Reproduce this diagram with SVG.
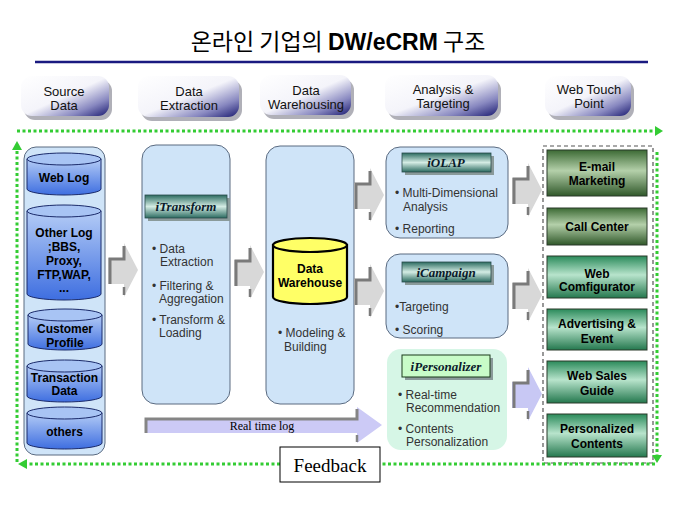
<svg xmlns="http://www.w3.org/2000/svg" width="680" height="510" viewBox="0 0 680 510">
<style>
.t{font-family:"Liberation Sans",Arial,sans-serif;}
.pill{font-family:"Liberation Sans",Arial,sans-serif;font-size:13px;fill:#111;text-anchor:middle;}
.cyl{font-family:"Liberation Sans",Arial,sans-serif;font-size:12px;font-weight:bold;fill:#000;text-anchor:middle;}
.bul{font-family:"Liberation Sans",Arial,sans-serif;font-size:12px;fill:#333;}
.ban{font-family:"Liberation Serif","Times New Roman",serif;font-size:13px;font-weight:bold;font-style:italic;fill:#0a1a2a;text-anchor:middle;}
.gb{font-family:"Liberation Sans",Arial,sans-serif;font-size:12px;font-weight:bold;fill:#000;text-anchor:middle;}
.panel{fill:#cfe4f8;stroke:#5a6a80;stroke-width:1;}
.cylb{fill:url(#gCyl);stroke:#1a2a6a;stroke-width:1;}
.cylt{fill:#a8c4f4;stroke:#1a2a6a;stroke-width:1;}
.dot{fill:none;stroke:#33cc33;stroke-width:3;stroke-dasharray:3 2.5;}
.pshadow{fill:#b0b0b8;}
.pillr{fill:url(#gPill);}
.banr{fill:url(#gBan);stroke:#2a4a4a;stroke-width:0.8;}
.bansh{fill:#8a9a9a;}
.gk{stroke:#2a3a2a;stroke-width:1;}
</style>
<defs>
<linearGradient id="gPill" x1="0" y1="0" x2="1" y2="1">
<stop offset="0" stop-color="#ffffff"/>
<stop offset="0.5" stop-color="#f4f4fa"/>
<stop offset="0.78" stop-color="#8888c0"/>
<stop offset="1" stop-color="#1a1a70"/>
</linearGradient>
<linearGradient id="gCyl" x1="0" y1="0" x2="0" y2="1">
<stop offset="0" stop-color="#b4ccf6"/>
<stop offset="1" stop-color="#3e6ee0"/>
</linearGradient>
<linearGradient id="gBan" x1="0" y1="0" x2="0" y2="1">
<stop offset="0" stop-color="#2b6b60"/>
<stop offset="0.5" stop-color="#d4ece4"/>
<stop offset="1" stop-color="#2b6b60"/>
</linearGradient>
<linearGradient id="gDG" x1="0" y1="0" x2="0" y2="1">
<stop offset="0" stop-color="#3c6a34"/>
<stop offset="0.45" stop-color="#b4d0aa"/>
<stop offset="1" stop-color="#30582a"/>
</linearGradient>
<linearGradient id="gTG" x1="0" y1="0" x2="0" y2="1">
<stop offset="0" stop-color="#2a8a5a"/>
<stop offset="0.45" stop-color="#b8e4cc"/>
<stop offset="1" stop-color="#24784e"/>
</linearGradient>
<g id="blk">
<polygon points="0,15 16,15 16,0 30,27 16,54 16,41 0,41" fill="#d8d8d8"/>
<polyline points="2,41 2,16 16,16 16,3" fill="none" stroke="#7a7a7a" stroke-width="3"/>
<line x1="16" y1="44" x2="16" y2="52" stroke="#7a7a7a" stroke-width="2.5"/>
</g>
<g id="blkL">
<polygon points="0,15 16,15 16,0 30,27 16,54 16,41 0,41" fill="#c8c8f4"/>
<polyline points="2,41 2,16 16,16 16,3" fill="none" stroke="#7a7a7a" stroke-width="3"/>
<line x1="16" y1="44" x2="16" y2="52" stroke="#7a7a7a" stroke-width="2.5"/>
</g>
</defs>
<rect width="680" height="510" fill="#ffffff"/>

<g id="title">
<text x="338" y="50" font-family="'Noto Sans CJK KR','Liberation Sans',sans-serif" font-size="23" text-anchor="middle" fill="#000">온라인 기업의 <tspan font-weight="bold" font-family="'Liberation Sans',Arial,sans-serif">DW/eCRM</tspan> 구조</text>
<line x1="35" y1="62" x2="648" y2="62" stroke="#1a1a80" stroke-width="2.5"/>
</g>

<g id="header-source">
<rect class="pshadow" x="24" y="80" width="88" height="40" rx="11"/>
<rect class="pillr" x="21" y="76" width="88" height="40" rx="11"/>
<text class="pill" x="64" y="96">Source</text><text class="pill" x="64" y="110">Data</text>
</g>
<g id="header-extraction">
<rect class="pshadow" x="141" y="80" width="101" height="41" rx="11"/>
<rect class="pillr" x="138" y="76" width="101" height="41" rx="11"/>
<text class="pill" x="189" y="96">Data</text><text class="pill" x="189" y="110">Extraction</text>
</g>
<g id="header-warehousing">
<rect class="pshadow" x="263" y="79" width="91" height="40" rx="11"/>
<rect class="pillr" x="260" y="75" width="91" height="40" rx="11"/>
<text class="pill" x="306" y="95">Data</text><text class="pill" x="306" y="109">Warehousing</text>
</g>
<g id="header-analysis">
<rect class="pshadow" x="388" y="79" width="113" height="41" rx="11"/>
<rect class="pillr" x="385" y="75" width="113" height="41" rx="11"/>
<text class="pill" x="443" y="94">Analysis &amp;</text><text class="pill" x="443" y="108">Targeting</text>
</g>
<g id="header-webtouch">
<rect class="pshadow" x="548" y="80" width="86" height="40" rx="11"/>
<rect class="pillr" x="545" y="76" width="86" height="40" rx="11"/>
<text class="pill" x="589" y="94">Web Touch</text><text class="pill" x="589" y="108">Point</text>
</g>

<g id="source-data">
<rect class="panel" x="24" y="147" width="81" height="308" rx="12"/>
<g id="cyl-weblog">
<path class="cylb" d="M27,159 V189 A37,6 0 0 0 101,189 V159 Z"/>
<ellipse class="cylt" cx="64" cy="159" rx="37" ry="6"/>
<text class="cyl" x="64" y="182">Web Log</text>
</g>
<g id="cyl-otherlog">
<path class="cylb" d="M27,211 V294 A37,6 0 0 0 101,294 V211 Z"/>
<ellipse class="cylt" cx="64" cy="211" rx="37" ry="6"/>
<text class="cyl" x="64" y="237">Other Log</text>
<text class="cyl" x="64" y="251">;BBS,</text>
<text class="cyl" x="64" y="265">Proxy,</text>
<text class="cyl" x="64" y="279">FTP,WAP,</text>
<text class="cyl" x="64" y="292">...</text>
</g>
<g id="cyl-customer">
<path class="cylb" d="M28,315 V344 A37,6 0 0 0 102,344 V315 Z"/>
<ellipse class="cylt" cx="65" cy="315" rx="37" ry="6"/>
<text class="cyl" x="65" y="333">Customer</text>
<text class="cyl" x="65" y="347">Profile</text>
</g>
<g id="cyl-transaction">
<path class="cylb" d="M27,366 V396 A37.5,6 0 0 0 102,396 V366 Z"/>
<ellipse class="cylt" cx="64.5" cy="366" rx="37.5" ry="6"/>
<text class="cyl" x="64.5" y="382">Transaction</text>
<text class="cyl" x="64.5" y="395">Data</text>
</g>
<g id="cyl-others">
<path class="cylb" d="M27,413 V443 A37.5,6 0 0 0 102,443 V413 Z"/>
<ellipse class="cylt" cx="64.5" cy="413" rx="37.5" ry="6"/>
<text class="cyl" x="64.5" y="436">others</text>
</g>
</g>

<g id="data-extraction">
<rect class="panel" x="142" y="145" width="88" height="259" rx="14"/>
<rect class="bansh" x="148" y="198" width="82" height="23"/>
<rect class="banr" x="145" y="195" width="82" height="23"/>
<text class="ban" x="186" y="211">iTransform</text>
<text class="bul" x="152" y="253">• Data</text>
<text class="bul" x="160" y="266">Extraction</text>
<text class="bul" x="152" y="290">• Filtering &amp;</text>
<text class="bul" x="159" y="303">Aggregation</text>
<text class="bul" x="152" y="324">• Transform &amp;</text>
<text class="bul" x="159" y="337">Loading</text>
</g>

<g id="data-warehousing">
<rect class="panel" x="266" y="146" width="88" height="258" rx="14"/>
<path d="M273,245 V297 A37,7 0 0 0 347,297 V245 Z" fill="#ffff66" stroke="#000" stroke-width="2.2"/>
<ellipse cx="310" cy="245" rx="37" ry="7" fill="#ffff66" stroke="#000" stroke-width="2.2"/>
<text class="cyl" x="310" y="273">Data</text>
<text class="cyl" x="310" y="287">Warehouse</text>
<text class="bul" x="278" y="337">• Modeling &amp;</text>
<text class="bul" x="284" y="351">Building</text>
</g>

<g id="iolap">
<rect class="panel" x="386" y="147" width="122" height="91" rx="14"/>
<rect class="bansh" x="405" y="156" width="89" height="19"/>
<rect class="banr" x="402" y="153" width="89" height="19"/>
<text class="ban" x="446" y="167">iOLAP</text>
<text class="bul" x="395" y="197">• Multi-Dimensional</text>
<text class="bul" x="403" y="211">Analysis</text>
<text class="bul" x="395" y="233">• Reporting</text>
</g>

<g id="icampaign">
<rect class="panel" x="386" y="254" width="122" height="84" rx="14"/>
<rect class="bansh" x="405" y="265" width="89" height="20"/>
<rect class="banr" x="402" y="262" width="89" height="20"/>
<text class="ban" x="446" y="277">iCampaign</text>
<text class="bul" x="395" y="311">•Targeting</text>
<text class="bul" x="395" y="334">• Scoring</text>
</g>

<g id="ipersonalizer">
<rect x="387" y="349" width="120" height="101" rx="14" fill="#d6f6e6"/>
<rect class="bansh" x="405" y="358" width="88" height="22"/>
<rect x="402" y="355" width="88" height="22" fill="#c8fcc8" stroke="#1a3a1a" stroke-width="1"/>
<text class="ban" x="446" y="371">iPersonalizer</text>
<text class="bul" x="398" y="399">• Real-time</text>
<text class="bul" x="406" y="412">Recommendation</text>
<text class="bul" x="398" y="433">• Contents</text>
<text class="bul" x="406" y="446">Personalization</text>
</g>

<g id="web-touch-point">
<rect x="543" y="146" width="110" height="317" fill="none" stroke="#555" stroke-width="1.2" stroke-dasharray="4 3"/>
<g id="tp-email"><rect class="gk" x="547" y="150" width="100" height="46" fill="url(#gDG)"/><text class="gb" x="597" y="171">E-mail</text><text class="gb" x="597" y="185">Marketing</text></g>
<g id="tp-call"><rect class="gk" x="547" y="208" width="100" height="37" fill="url(#gDG)"/><text class="gb" x="597" y="231">Call Center</text></g>
<g id="tp-config"><rect class="gk" x="547" y="256" width="100" height="42" fill="url(#gTG)"/><text class="gb" x="597" y="278">Web</text><text class="gb" x="597" y="291">Comfigurator</text></g>
<g id="tp-adv"><rect class="gk" x="547" y="309" width="100" height="41" fill="url(#gTG)"/><text class="gb" x="597" y="328">Advertising &amp;</text><text class="gb" x="597" y="343">Event</text></g>
<g id="tp-sales"><rect class="gk" x="547" y="361" width="100" height="42" fill="url(#gTG)"/><text class="gb" x="597" y="380">Web Sales</text><text class="gb" x="597" y="395">Guide</text></g>
<g id="tp-pers"><rect class="gk" x="547" y="414" width="100" height="43" fill="url(#gTG)"/><text class="gb" x="597" y="433">Personalized</text><text class="gb" x="597" y="448">Contents</text></g>
</g>

<g id="connectors">
<path class="dot" d="M17,131 H654"/>
<polygon points="655,126 663,131 655,136" fill="#33cc33"/>
<path class="dot" d="M17,462 V150"/>
<polygon points="12,150 17,141 22,150" fill="#33cc33"/>
<path class="dot" d="M657,152 V455"/>
<polygon points="652,455 657,463 662,455" fill="#33cc33"/>
<path class="dot" d="M655,464 H382 M280,464 H27"/>
<polygon points="27,459 18,464 27,469" fill="#33cc33"/>
<use href="#blk" x="108" y="243"/>
<use href="#blk" x="234" y="245"/>
<use href="#blk" x="354" y="168"/>
<use href="#blk" x="354" y="264"/>
<use href="#blk" x="512" y="163"/>
<use href="#blk" x="512" y="268"/>
<use href="#blkL" x="512" y="367"/>
<g id="realtime-log">
<polygon points="145,418 357,418 357,407 382,425 357,443 357,433 145,433" fill="#cccaf6"/>
<polyline points="146,433 146,419 357,419 357,409" fill="none" stroke="#858585" stroke-width="3"/>
<line x1="357" y1="435" x2="357" y2="442" stroke="#858585" stroke-width="2.5"/>
<text x="262" y="430" font-family="'Liberation Serif','Times New Roman',serif" font-size="12" text-anchor="middle" fill="#000">Real time log</text>
</g>
<g id="feedback">
<rect x="280" y="447" width="100" height="35" fill="#fff" stroke="#000" stroke-width="1"/>
<text x="330" y="472" font-family="'Liberation Serif','Times New Roman',serif" font-size="19" text-anchor="middle" fill="#000">Feedback</text>
</g>
</g>
</svg>
